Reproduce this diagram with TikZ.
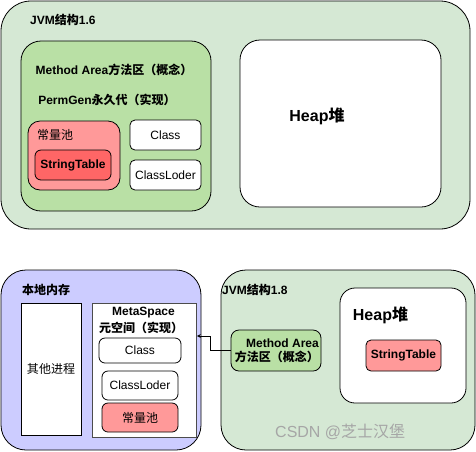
\documentclass[tikz,border=0pt]{standalone}
\usepackage{fontspec}
\setmainfont{Liberation Sans}
\newfontfamily\cjk{Noto Sans CJK SC}
\definecolor{jvmgreen}{HTML}{D5E8D4}
\definecolor{areagreen}{HTML}{B9E0A5}
\definecolor{poolred}{HTML}{FF9999}
\definecolor{tablered}{HTML}{FF6666}
\definecolor{nativeblue}{HTML}{CCCCFF}
\tikzset{
  box/.style={draw,line width=0.8pt,inner sep=0pt,minimum width=#1},
  lbl/.style={inner sep=0pt,font=\fontsize{12}{14}\selectfont\bfseries},
  txt/.style={inner sep=0pt,font=\fontsize{12}{14}\selectfont}
}
\begin{document}
\begin{tikzpicture}[x=1pt,y=-1pt,>=stealth]
	\useasboundingbox (0,0) rectangle (476,451);
	% JVM 1.6
	\node[box=469pt,minimum height=228pt,rounded corners=30pt,fill=jvmgreen] (jvmold) at (235.5,115) {};
	\node[lbl,anchor=west] (jvmoldlbl) at (30,20) {JVM{\cjk 结构}1.6};
	\node[box=190pt,minimum height=170pt,rounded corners=20pt,fill=areagreen] (areaold) at (116,126) {};
	\node[lbl] (arealbl) at (114,70) {Method Area{\cjk 方法区（概念）}};
	\node[lbl] (permlbl) at (107,100) {PermGen{\cjk 永久代（实现）}};
	\node[box=92pt,minimum height=69pt,rounded corners=12pt,fill=poolred] (poolold) at (74,155.5) {};
	\node[txt,anchor=west] (poollbl) at (37,135) {\cjk 常量池};
	\node[box=76pt,minimum height=30pt,rounded corners=6pt,fill=tablered,lbl] (tableold) at (73,165) {StringTable};
	\node[box=71pt,minimum height=30pt,rounded corners=5pt,fill=white,txt] (classold) at (165.5,135) {Class};
	\node[box=71pt,minimum height=30pt,rounded corners=5pt,fill=white,txt] (loderold) at (165.5,175) {ClassLoder};
	\node[box=201pt,minimum height=167pt,rounded corners=20pt,fill=white] (heapold) at (340.5,123.5) {};
	\node[lbl,font=\fontsize{16}{18}\selectfont\bfseries] (heapoldlbl) at (317,116) {Heap{\cjk 堆}};
	% native memory
	\node[box=200pt,minimum height=180pt,rounded corners=25pt,fill=nativeblue] (native) at (101,360) {};
	\node[lbl,anchor=west] (nativelbl) at (22,290) {\cjk 本地内存};
	\node[box=60pt,minimum height=132pt,fill=white,txt] (other) at (51,369) {\cjk 其他进程};
	\node[box=104pt,minimum height=134pt,fill=white,draw=black!70] (meta) at (144,370) {};
	\node[lbl] (metalbl) at (143.5,313) {MetaSpace};
	\node[lbl] (metasub) at (141,328) {\cjk 元空间（实现）};
	\node[box=82pt,minimum height=25pt,rounded corners=6pt,fill=white,txt] (classnew) at (140,350.5) {Class};
	\node[box=76pt,minimum height=29pt,rounded corners=6pt,fill=white,txt] (lodernew) at (140,385.5) {ClassLoder};
	\node[box=76pt,minimum height=29pt,rounded corners=6pt,fill=poolred,txt] (poolnew) at (140,417.5) {\cjk 常量池};
	% JVM 1.8
	\node[box=254pt,minimum height=180pt,rounded corners=25pt,fill=jvmgreen] (jvmnew) at (348,360) {};
	\node[lbl,anchor=west] (jvmnewlbl) at (222,290) {JVM{\cjk 结构}1.8};
	\node[box=126pt,minimum height=115pt,rounded corners=15pt,fill=white] (heapnew) at (403,345.5) {};
	\node[lbl,font=\fontsize{16}{18}\selectfont\bfseries] (heapnewlbl) at (380.5,315) {Heap{\cjk 堆}};
	\node[box=75pt,minimum height=31pt,rounded corners=5pt,fill=poolred,lbl] (tablenew) at (403.5,355.5) {StringTable};
	\node[box=90pt,minimum height=41pt,rounded corners=8pt,fill=areagreen] (areanew) at (276,350.5) {};
	\node[lbl,anchor=east,align=right] (areanewlbl) at (319,350.5) {Method Area\\{\cjk 方法区（概念）}};
	\coordinate (bend) at (210,336);
	\draw[->,line width=0.8pt,shorten >=0.4pt] (areanew.west) -| (bend) -- (meta.east |- bend);
	% watermark
	\node[txt,anchor=west,font=\fontsize{16}{18}\selectfont,text=black!35] (mark) at (275,432) {CSDN @{\cjk 芝士汉堡}};
\end{tikzpicture}
\end{document}
